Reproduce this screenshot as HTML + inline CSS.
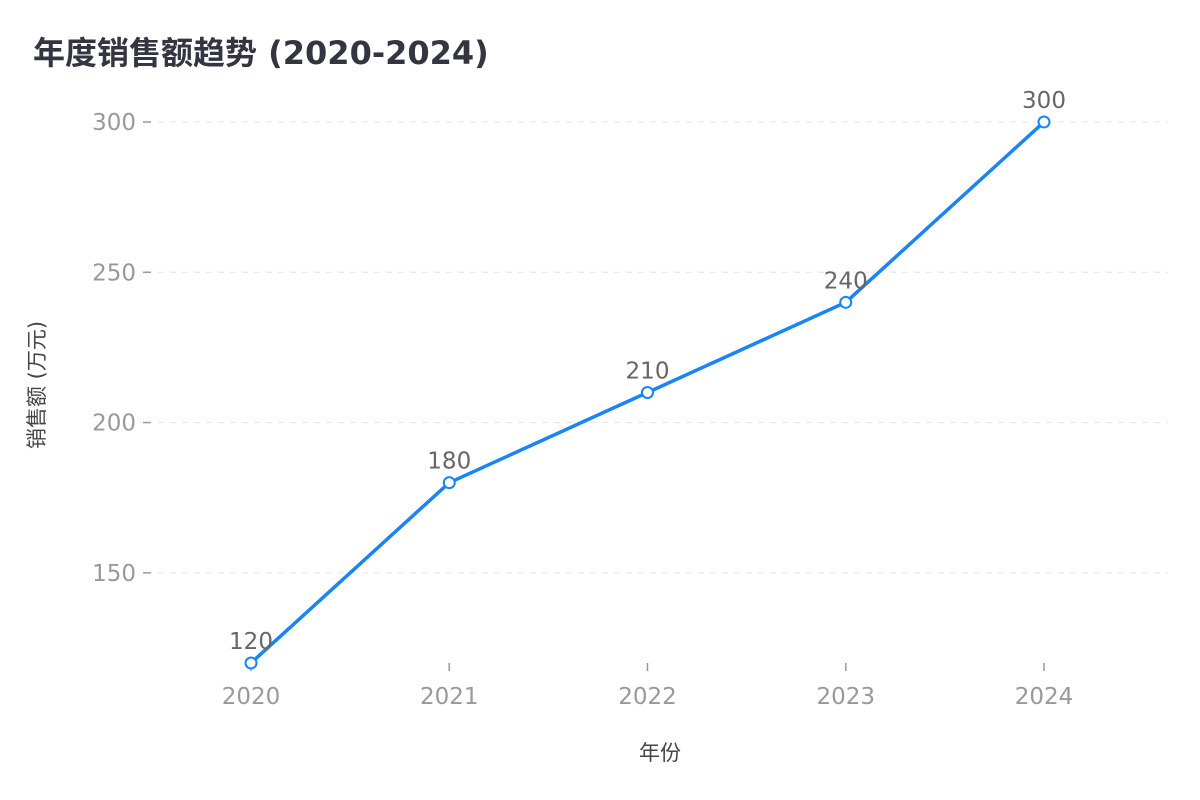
<!DOCTYPE html>
<html><head><meta charset="utf-8">
<style>
html,body{margin:0;padding:0;background:#fff;}
svg{display:block;font-family:"DejaVu Sans","Noto Sans CJK SC",sans-serif;}
</style></head>
<body>
<svg id="chart" width="1200" height="800">
  <text x="33" y="64" font-size="32" font-weight="bold" fill="#333640">年度销售额趋势 (2020-2024)</text>
  <g id="grid"></g>
  <g id="yaxis"></g>
  <g id="xaxis"></g>
  <text transform="translate(44,385) rotate(-90)" text-anchor="middle" font-size="21" fill="#444">销售额 (万元)</text>
  <text x="660" y="760" text-anchor="middle" font-size="21" fill="#444">年份</text>
  <g id="series"></g>
</svg>
<script>
const categories = ["2020","2021","2022","2023","2024"];
const salesValues = [120,180,210,240,300];
const yTicks = [150,200,250,300];

const NS = "http://www.w3.org/2000/svg";
const yMin = 120, yMax = 300, yTop = 122, yBottom = 663;
const xFirst = 251, xLast = 1044;
function yScale(v){ return yBottom - (v - yMin) / (yMax - yMin) * (yBottom - yTop); }
function xScale(i){ return xFirst + i * (xLast - xFirst) / (categories.length - 1); }
function mk(tag, attrs, parent){
  const el = document.createElementNS(NS, tag);
  for (const k in attrs) el.setAttribute(k, attrs[k]);
  parent.appendChild(el);
  return el;
}
const grid = document.getElementById('grid');
const yaxis = document.getElementById('yaxis');
const xaxis = document.getElementById('xaxis');
const series = document.getElementById('series');

yTicks.forEach(v => {
  const y = yScale(v);
  const gl = mk('line', {x1:158, x2:1168, y1:y, y2:y, stroke:'#e6e6e6', 'stroke-dasharray':'6,6', 'stroke-width':1}, grid);
  
  
  const tk = mk('line', {x1:143, x2:151, y1:y, y2:y, stroke:'#999', 'stroke-width':1.5}, yaxis);
  
  
  const lb = mk('text', {x:136, y:y+8, 'text-anchor':'end', 'font-size':23, fill:'#999'}, yaxis);
  lb.textContent = v;
  
  
});

categories.forEach((c, i) => {
  const x = xScale(i);
  const tk = mk('line', {x1:x, x2:x, y1:663, y2:671, stroke:'#999', 'stroke-width':1.5}, xaxis);
  
  
  const lb = mk('text', {x:x, y:704, 'text-anchor':'middle', 'font-size':23, fill:'#999'}, xaxis);
  lb.textContent = c;
  
  
});

const pts = salesValues.map((v, i) => xScale(i) + ',' + yScale(v)).join(' ');
const line = mk('polyline', {points:pts, fill:'none', stroke:'#1a84f5', 'stroke-width':3.5, 'stroke-linejoin':'round'}, series);



salesValues.forEach((v, i) => {
  const x = xScale(i), y = yScale(v);
  const pt = mk('circle', {cx:x, cy:y, r:5.5, fill:'#fff', stroke:'#1a84f5', 'stroke-width':2}, series);
  
  
  const lb = mk('text', {x:x, y:y-14, 'text-anchor':'middle', 'font-size':23, fill:'#666'}, series);
  lb.textContent = v;
  
  
});
</script>
</body></html>
